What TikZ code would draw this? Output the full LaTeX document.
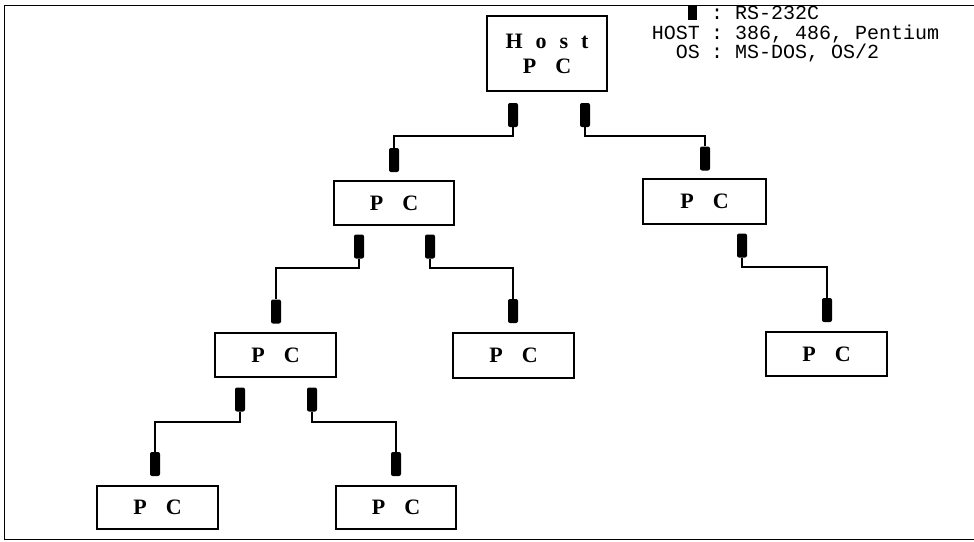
\documentclass[tikz,border=0pt]{standalone}
\usepackage{fontspec}
\setmainfont{Liberation Serif}
\newfontfamily\legendfont{Liberation Mono}
\newcommand{\pcgap}{\hspace{19pt}}
\newcommand{\hgap}{\hspace{13pt}}
\begin{document}
\begin{tikzpicture}[x=1pt,y=-1pt,
  pcbox/.style={draw, line width=1.4pt, inner sep=0pt, font=\fontsize{22}{25}\selectfont\bfseries},
  conn/.style={fill=black, rounded corners=2pt, inner sep=0pt, minimum width=10pt, minimum height=24pt},
  wire/.style={line width=1.6pt},
  legend/.style={anchor=base west, inner sep=0pt, font=\fontsize{20}{22}\selectfont\legendfont}]
\useasboundingbox (0,0) rectangle (974,541);
\draw[line width=0.7pt] (974,5) -- (4,5) -- (4,539) -- (974,539);
% boxes
\node[pcbox, minimum width=120pt, minimum height=75pt, align=center] (host) at (547,53.5) {H\hgap o\hgap s\hgap t\\P\pcgap C};
\node[pcbox, minimum width=120pt, minimum height=44pt] (a) at (394,203) {P\pcgap C};
\node[pcbox, minimum width=123pt, minimum height=45pt] (b) at (704.5,201.5) {P\pcgap C};
\node[pcbox, minimum width=121pt, minimum height=44pt] (aa) at (275.5,355) {P\pcgap C};
\node[pcbox, minimum width=121pt, minimum height=45pt] (ab) at (513.5,355.5) {P\pcgap C};
\node[pcbox, minimum width=121pt, minimum height=44pt] (bb) at (826.5,354) {P\pcgap C};
\node[pcbox, minimum width=121pt, minimum height=43pt] (aaa) at (157.5,507.5) {P\pcgap C};
\node[pcbox, minimum width=120pt, minimum height=43pt] (aab) at (396,507.5) {P\pcgap C};
% connectors
\node[conn] (h1) at (513,115) {};
\node[conn] (h2) at (585,115) {};
\node[conn] (ain) at (394,160) {};
\node[conn] (bin) at (705,158.5) {};
\node[conn] (a1) at (359,246.5) {};
\node[conn] (a2) at (430,246.5) {};
\node[conn] (b1) at (742,245.5) {};
\node[conn] (aain) at (276,311.5) {};
\node[conn] (abin) at (513,311) {};
\node[conn] (bbin) at (827,310) {};
\node[conn] (aa1) at (240,399.5) {};
\node[conn] (aa2) at (312,399.5) {};
\node[conn] (aaain) at (155,464) {};
\node[conn] (aabin) at (396,464) {};
% wires
\draw[wire] (h1.south) -- ++(0,9) -| (ain.north);
\draw[wire] (h2.south) -- ++(0,9) -| (bin.north);
\draw[wire] (a1.south) -- ++(0,9.5) -| (aain.north);
\draw[wire] (a2.south) -- ++(0,9.5) -| (abin.north);
\draw[wire] (b1.south) -- ++(0,9.5) -| (bbin.north);
\draw[wire] (aa1.south) -- ++(0,10) -| (aaain.north);
\draw[wire] (aa2.south) -- ++(0,10) -| (aabin.north);
% legend
\node[fill=black, inner sep=0pt, minimum width=9pt, minimum height=15pt] (sym) at (692,12.5) {};
\node[legend, anchor=base] (c1) at (717,19) {:};
\node[legend] (l1) at (735,19) {RS-232C};
\node[legend, anchor=base east] (k2) at (700,39) {HOST};
\node[legend, anchor=base] (c2) at (717,39) {:};
\node[legend] (l2) at (735,39) {386, 486, Pentium};
\node[legend, anchor=base east] (k3) at (700,58.5) {OS};
\node[legend, anchor=base] (c3) at (717,58.5) {:};
\node[legend] (l3) at (735,58.5) {MS-DOS, OS/2};
\end{tikzpicture}
\end{document}
